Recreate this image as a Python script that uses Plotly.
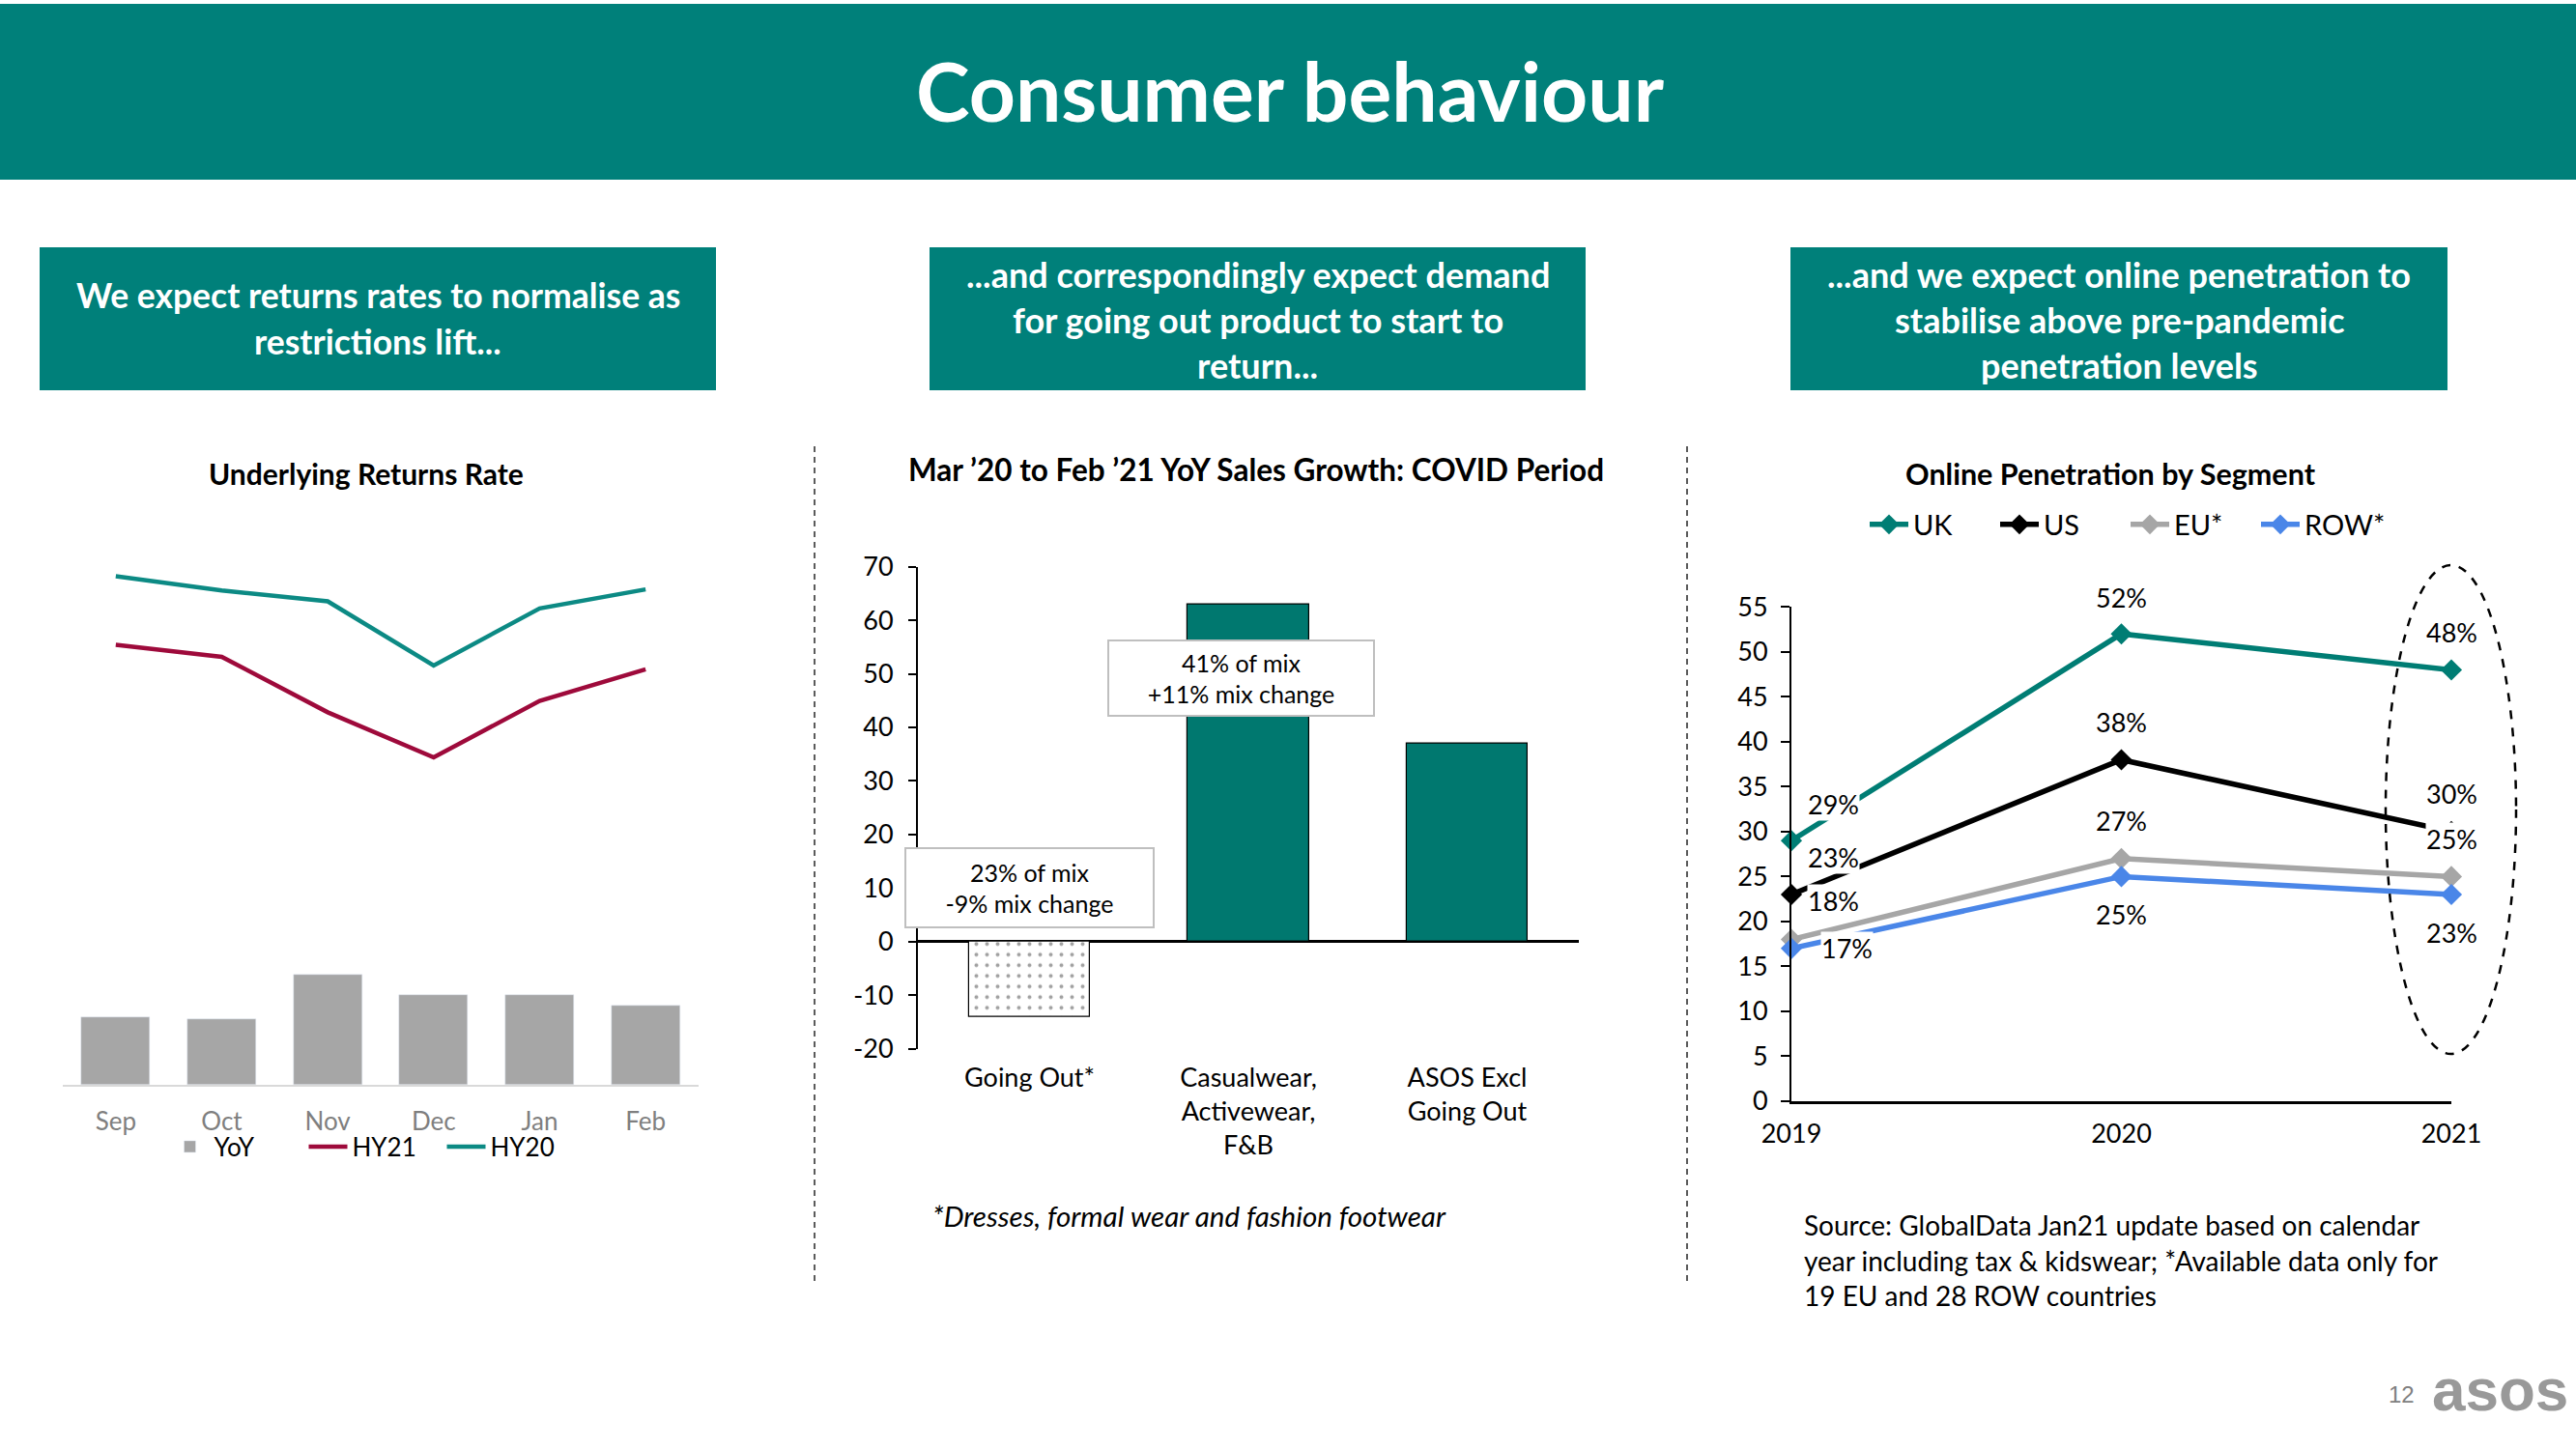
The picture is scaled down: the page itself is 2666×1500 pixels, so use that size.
import plotly.graph_objects as go

W, H = 2666, 1500
def px(x): return x / W
def py(y): return 1 - y / H

FONT = "Lato"
TEAL_HDR = "#00807A"
TEAL = "#00786F"

# ---------------- data ----------------
# Left: Underlying Returns Rate (no axis shown; relative units)
months = ["Sep", "Oct", "Nov", "Dec", "Jan", "Feb"]
yoy = [12.4, 12.0, 20.2, 16.6, 16.6, 14.6]
hy21 = [80.9, 78.7, 68.5, 60.2, 70.6, 76.4]
hy20 = [93.5, 90.9, 88.9, 77.1, 87.6, 91.1]

# Middle: YoY sales growth
seg_cats = ["Going Out*", "Casualwear,<br>Activewear,<br>F&B", "ASOS Excl<br>Going Out"]
seg_growth = [-14, 63, 37]
mid_ticks = [-20, -10, 0, 10, 20, 30, 40, 50, 60, 70]

# Right: Online penetration
years = [2019, 2020, 2021]
uk = [29, 52, 48]
us = [23, 38, 30]
eu = [18, 27, 25]
row = [17, 25, 23]

fig = go.Figure()

# ---------------- left chart ----------------
fig.add_trace(go.Bar(x=months, y=yoy, name="YoY", marker=dict(color="#A6A6A6"),
                     width=0.65, xaxis="x", yaxis="y", legend="legend"))
fig.add_trace(go.Scatter(x=months, y=hy21, name="HY21", mode="lines",
                         line=dict(color="#9E0A3B", width=4.5), xaxis="x", yaxis="y", legend="legend"))
fig.add_trace(go.Scatter(x=months, y=hy20, name="HY20", mode="lines",
                         line=dict(color="#0C8A84", width=4.5), xaxis="x", yaxis="y", legend="legend"))

# ---------------- middle chart ----------------
fig.add_trace(go.Bar(x=seg_cats, y=seg_growth, width=0.556, showlegend=False,
                     marker=dict(color=["white", TEAL, TEAL],
                                 line=dict(color="black", width=1.2),
                                 pattern=dict(shape=[".", "", ""], fgcolor="black",
                                              size=11, solidity=0.1, fillmode="overlay")),
                     xaxis="x2", yaxis="y2"))

# ---------------- right chart ----------------
series = [("UK", uk, "#007D74"), ("US", us, "#000000"),
          ("EU*", eu, "#A6A6A6"), ("ROW*", row, "#4A86E8")]
for name, vals, col in series:
    fig.add_trace(go.Scatter(x=years, y=vals, name=name, mode="lines+markers",
                             line=dict(color=col, width=5.5),
                             marker=dict(symbol="diamond", size=17, color=col),
                             cliponaxis=False, xaxis="x3", yaxis="y3", legend="legend2"))

annotations = []
shapes = []

def note(x, y, text, size, color="black", xanchor="center", yanchor="middle", **kw):
    d = dict(x=px(x), y=py(y), xref="paper", yref="paper", text=text, showarrow=False,
             xanchor=xanchor, yanchor=yanchor, font=dict(family=kw.pop("family", FONT), size=size, color=color))
    d.update(kw)
    annotations.append(d)

# data labels for right chart
label_offsets = {
    "UK": [(43, 38), (0, 38), (0, 39)],
    "US": [(43, 39), (0, 39), (0, 39)],
    "EU*": [(43, 40), (0, 39), (0, 39)],
    "ROW*": [(57, 0), (0, -39), (0, -39)],
}
for name, vals, col in series:
    for i, (yr, v) in enumerate(zip(years, vals)):
        dx, dy = label_offsets[name][i]
        annotations.append(dict(x=yr, y=v, xref="x3", yref="y3", text=f"{v}%",
                                showarrow=False, xshift=dx, yshift=dy,
                                xanchor="center", yanchor="middle",
                                font=dict(family=FONT, size=27, color="black"),
                                bgcolor="white", borderpad=0))

# header band
shapes.append(dict(type="rect", xref="paper", yref="paper", x0=0, x1=1,
                   y0=py(186), y1=py(4), fillcolor=TEAL_HDR, line=dict(width=0), layer="below"))
note(1335, 94, "<b>Consumer behaviour</b>", 84, "white")

# header boxes
boxes = [
    (41, 741, ["We expect returns rates to normalise as", "restrictions lift..."], 306, 35.5),
    (962, 1641, ["...and correspondingly expect demand", "for going out product to start to", "return..."], 284, 36),
    (1853, 2533, ["...and we expect online penetration to", "stabilise above pre-pandemic", "penetration levels"], 284, 36),
]
for x0, x1, lines, ytop, fs in boxes:
    shapes.append(dict(type="rect", xref="paper", yref="paper", x0=px(x0), x1=px(x1),
                       y0=py(404), y1=py(256), fillcolor=TEAL_HDR, line=dict(width=0), layer="below"))
    for k, ln in enumerate(lines):
        note((x0 + x1) / 2, ytop + 47 * k, f"<b>{ln}</b>", fs, "white")

# chart titles
note(379, 490, "<b>Underlying Returns Rate</b>", 30)
note(1300, 486, "<b>Mar ’20 to Feb ’21 YoY Sales Growth: COVID Period</b>", 31.5)
note(2184, 490, "<b>Online Penetration by Segment</b>", 30.5)

# middle chart mix boxes
note(1284.5, 702, "41% of mix<br>+11% mix change", 25, width=273, height=76, bgcolor="white",
     bordercolor="#BFBFBF", borderwidth=2, borderpad=0, align="center")
note(1065.5, 918.7, "23% of mix<br>-9% mix change", 25, width=255, height=80, bgcolor="white",
     bordercolor="#BFBFBF", borderwidth=2, borderpad=0, align="center")

# footnote middle
note(1231, 1258, "<i>*Dresses, formal wear and fashion footwear</i>", 29.5)

# source text right
src = ["Source: GlobalData Jan21 update based on calendar",
       "year including tax & kidswear; *Available data only for",
       "19 EU and 28 ROW countries"]
for k, ln in enumerate(src):
    note(1865, 1268 + 36.5 * k, ln, 28, xanchor="left")

# dashed ellipse around 2021
shapes.append(dict(type="circle", xref="paper", yref="paper", x0=px(2469), x1=px(2604),
                   y0=py(1091), y1=py(585), line=dict(color="black", width=2.5, dash="dash")))

# dashed separators
for sx in (843, 1746):
    shapes.append(dict(type="line", xref="paper", yref="paper", x0=px(sx), x1=px(sx),
                       y0=py(1326), y1=py(458), line=dict(color="#333333", width=1.6, dash="6px,5px")))

# footer
note(2485, 1443, "12", 24, "#808080", family="Liberation Sans")
note(2587, 1438, "<b>asos</b>", 62, "#999999", family="Liberation Sans")

fig.update_layout(
    width=W, height=H, margin=dict(l=0, r=0, t=0, b=0, autoexpand=False),
    paper_bgcolor="white", plot_bgcolor="rgba(0,0,0,0)",
    font=dict(family=FONT, color="black"),
    bargap=0,
    xaxis=dict(domain=[px(65), px(723)], range=[-0.5, 5.5], anchor="y", automargin=False,
               showline=True, linecolor="#D9D9D9", linewidth=2, showgrid=False, zeroline=False,
               ticks="outside", ticklen=14, tickcolor="rgba(0,0,0,0)",
               tickfont=dict(family=FONT, size=26, color="#7F7F7F")),
    yaxis=dict(domain=[py(1123), py(560)], range=[0, 100], anchor="x", visible=False, automargin=False),
    xaxis2=dict(domain=[px(950), px(1634)], range=[-0.51, 2.51], anchor="y2", automargin=False,
                showline=False, showgrid=False, zeroline=False,
                ticks="outside", ticklen=6, tickcolor="rgba(0,0,0,0)",
                tickfont=dict(family=FONT, size=27, color="black")),
    yaxis2=dict(domain=[py(1085.6), py(586.7)], range=[-20, 70], anchor="x2", automargin=False,
                tickvals=mid_ticks, ticktext=[str(t) for t in mid_ticks],
                showline=True, linecolor="black", linewidth=2, showgrid=False,
                zeroline=True, zerolinecolor="black", zerolinewidth=3,
                ticks="outside", ticklen=8, tickwidth=2, tickcolor="black",
                ticklabelstandoff=10,
                tickfont=dict(family=FONT, size=27, color="black")),
    xaxis3=dict(domain=[px(1854), px(2537)], range=[2019, 2021], anchor="y3", automargin=False,
                tickvals=years, ticktext=[str(y) for y in years],
                showline=True, linecolor="black", linewidth=3, showgrid=False, zeroline=False,
                ticks="outside", ticklen=8, tickcolor="rgba(0,0,0,0)",
                tickfont=dict(family=FONT, size=27, color="black")),
    yaxis3=dict(domain=[py(1140), py(628.3)], range=[0, 55], anchor="x3", dtick=5, automargin=False,
                showline=True, linecolor="black", linewidth=2, showgrid=False, zeroline=False,
                ticks="outside", ticklen=9, tickwidth=2, tickcolor="black",
                ticklabelstandoff=8,
                tickfont=dict(family=FONT, size=27, color="black")),
    legend=dict(orientation="h", x=px(386), xanchor="center", y=py(1187), yanchor="middle",
                font=dict(family=FONT, size=26, color="black"), bgcolor="rgba(0,0,0,0)",
                itemwidth=40, entrywidth=88, traceorder="normal"),
    legend2=dict(orientation="h", x=px(2200), xanchor="center", y=py(543), yanchor="middle",
                 font=dict(family=FONT, size=29, color="black"), bgcolor="rgba(0,0,0,0)",
                 itemwidth=40, entrywidth=80, traceorder="normal"),
    shapes=shapes,
    annotations=annotations,
)

fig.write_html("out.html", config={"displayModeBar": False},
               post_script="document.body.style.margin='0';document.body.style.overflow='hidden';")
